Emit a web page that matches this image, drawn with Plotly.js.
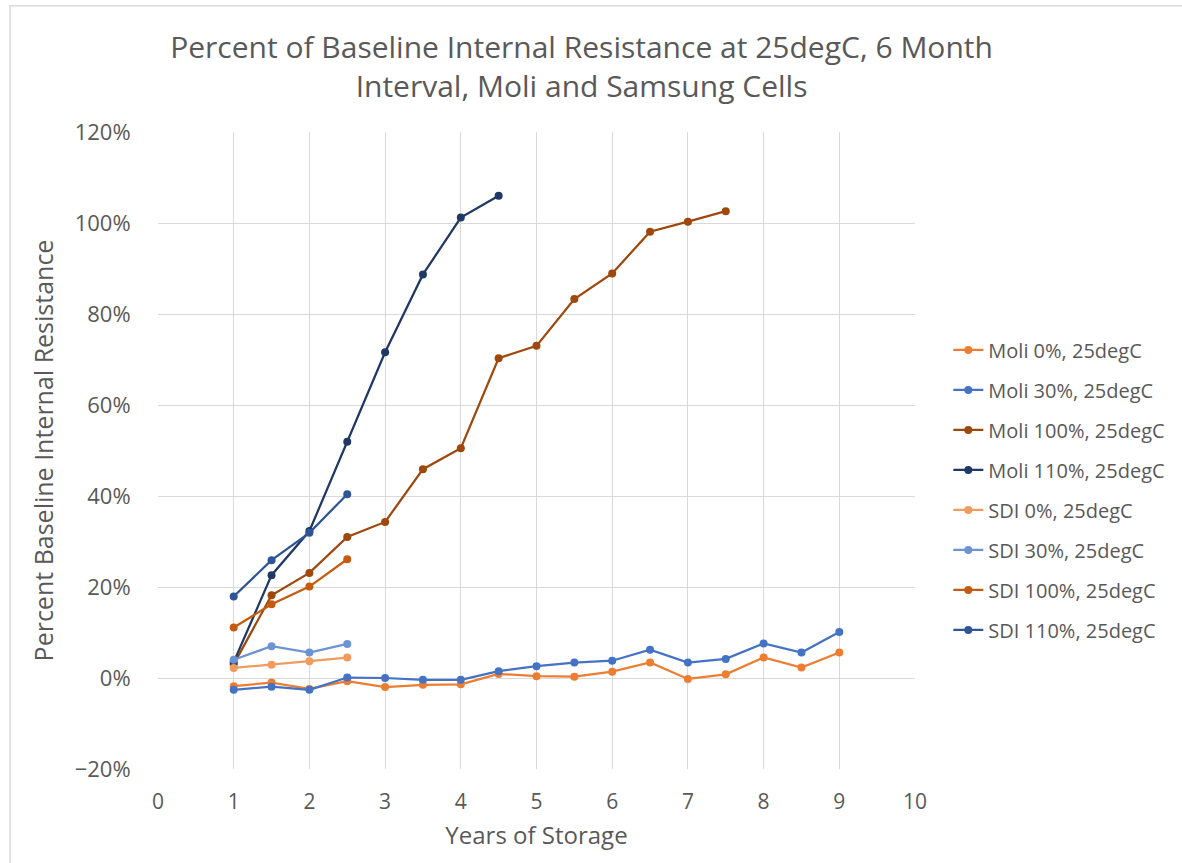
<!DOCTYPE html>
<html>
<head>
<meta charset="utf-8">
<script src="https://cdn.plot.ly/plotly-3.0.1.min.js"></script>
<style>html,body{margin:0;padding:0;background:#fff;}</style>
</head>
<body>
<div id="chart" style="width:1182px;height:863px;"></div>
<script>
const xLong = [1, 1.5, 2, 2.5, 3, 3.5, 4, 4.5, 5, 5.5, 6, 6.5, 7, 7.5, 8, 8.5, 9];
const moli0 = [-0.018, -0.010, -0.024, -0.007, -0.020, -0.015, -0.014, 0.009, 0.004, 0.003, 0.014, 0.034, -0.002, 0.008, 0.045, 0.023, 0.056];
const moli30 = [-0.026, -0.019, -0.026, 0.001, 0.000, -0.004, -0.004, 0.015, 0.026, 0.034, 0.038, 0.062, 0.034, 0.042, 0.076, 0.056, 0.101];

const xMoli100 = [1, 1.5, 2, 2.5, 3, 3.5, 4, 4.5, 5, 5.5, 6, 6.5, 7, 7.5];
const moli100 = [0.030, 0.182, 0.231, 0.310, 0.343, 0.459, 0.505, 0.703, 0.730, 0.833, 0.889, 0.981, 1.003, 1.026];

const xMoli110 = [1, 1.5, 2, 2.5, 3, 3.5, 4, 4.5];
const moli110 = [0.035, 0.226, 0.323, 0.519, 0.716, 0.887, 1.012, 1.060];

const xSdi = [1, 1.5, 2, 2.5];
const sdi0 = [0.022, 0.029, 0.037, 0.045];
const sdi30 = [0.040, 0.070, 0.056, 0.075];
const sdi100 = [0.111, 0.162, 0.201, 0.261];
const sdi110 = [0.179, 0.259, 0.319, 0.404];

const names = ["Moli 0%, 25degC", "Moli 30%, 25degC", "Moli 100%, 25degC", "Moli 110%, 25degC",
               "SDI 0%, 25degC", "SDI 30%, 25degC", "SDI 100%, 25degC", "SDI 110%, 25degC"];
const colors = ["#ED7D31", "#4472C4", "#9E480E", "#203864", "#F19C5E", "#6E93D3", "#C55A11", "#2F5597"];
const xs = [xLong, xLong, xMoli100, xMoli110, xSdi, xSdi, xSdi, xSdi];
const ys = [moli0, moli30, moli100, moli110, sdi0, sdi30, sdi100, sdi110];

const traces = names.map((n, i) => ({
  type: "scatter", mode: "lines+markers", name: n, x: xs[i], y: ys[i],
  legendgroup: "g" + i,
  line: {color: colors[i], width: 2.25},
  marker: {color: colors[i], size: 8}
}));

const gray = "#595959";
const layout = {
  width: 1182, height: 863,
  paper_bgcolor: "#fff", plot_bgcolor: "#fff",
  margin: {l: 158, r: 267, t: 132, b: 94},
  font: {family: "Open Sans, Noto Sans, sans-serif", color: gray},
  title: {
    text: "Percent of Baseline Internal Resistance at 25degC, 6 Month<br>Interval, Moli and Samsung Cells",
    font: {size: 30, color: gray}, x: 0.492, xanchor: "center", y: 0.933, yanchor: "top"
  },
  xaxis: {
    range: [0, 10], dtick: 1, tick0: 0, showgrid: true, gridcolor: "#D9D9D9", gridwidth: 1.3,
    zeroline: false, showline: false, ticks: "outside", ticklen: 14, tickcolor: "rgba(0,0,0,0)",
    tickfont: {size: 21, color: gray},
    title: {text: "Years of Storage", font: {size: 24, color: gray}, standoff: 12}
  },
  yaxis: {
    range: [-0.2, 1.2], dtick: 0.2, tick0: 0, tickformat: ".0%", showgrid: true, gridcolor: "#D9D9D9", gridwidth: 1.3,
    zeroline: false, showline: false, ticks: "outside", ticklen: 22, tickcolor: "rgba(0,0,0,0)",
    tickfont: {size: 22, color: gray},
    title: {text: "Percent Baseline Internal Resistance", font: {size: 25, color: gray}, standoff: 13}
  },
  showlegend: true,
  legend: {
    x: 1.044, xanchor: "left", y: 0.438, yanchor: "middle",
    font: {size: 20, color: gray}, tracegroupgap: 11, itemwidth: 30,
    bgcolor: "rgba(0,0,0,0)"
  },
  shapes: [{type: "rect", xref: "paper", yref: "paper", x0: -0.1955, x1: 1.5, y0: -0.3, y1: 1.198,
            line: {color: "#D9D9D9", width: 1.5}, layer: "below"}]
};

Plotly.newPlot("chart", traces, layout, {displayModeBar: false});
</script>
</body>
</html>
